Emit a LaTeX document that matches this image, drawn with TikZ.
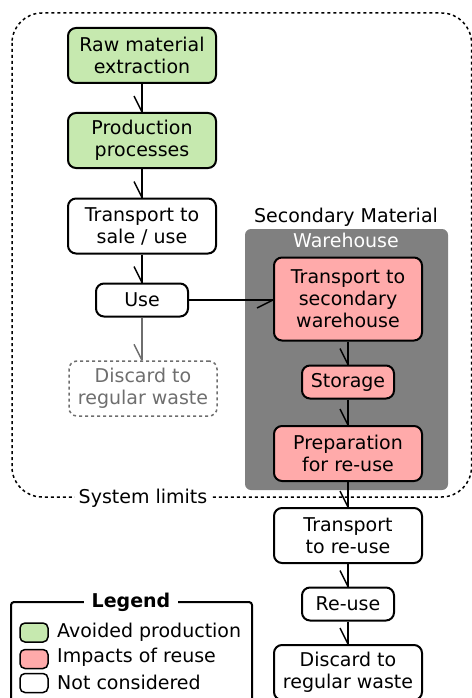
\documentclass[tikz,border=0pt]{standalone}
\usepackage{fontspec}
\setmainfont{DejaVu Sans}
\definecolor{grn}{HTML}{C6E9AF}
\definecolor{pnk}{HTML}{FFAAAA}
\definecolor{whgray}{HTML}{808080}
\definecolor{dgray}{HTML}{6E6E6E}
\newcommand\mydownarrow[3][black]{%
  \draw[arr, draw=#1] (#2.south) -- (#3.north);
  \draw[arr, draw=#1] (#3.north) -- ++(-8,-16);}
\begin{document}
\begin{tikzpicture}[x=1pt,y=-1pt,
  every node/.style={font=\fontsize{19}{22}\selectfont, align=center, inner sep=0pt},
  box/.style={draw, line width=2pt, rounded corners=8pt, minimum width=148pt, minimum height=55pt},
  sbox/.style={box, minimum width=92pt, minimum height=33pt},
  arr/.style={line width=1.5pt},
  swatch/.style={draw, line width=1.5pt, rounded corners=5pt, minimum width=28pt, minimum height=19pt},
  legtext/.style={anchor=west}
]
\useasboundingbox (0,0) rectangle (471,698);
% system limits
\draw[line width=1.5pt, dash pattern=on 3pt off 3pt, rounded corners=30pt] (12,13) rectangle (471.5,497);
\node[fill=white, inner xsep=4pt, inner ysep=2pt] (syslim) at (143,498) {System limits};
% warehouse
\fill[whgray, rounded corners=6pt] (245,229) rectangle (448,490);
\node (secmat) at (346,217) {Secondary Material};
\node[text=white] (wh) at (346,240) {Warehouse};
% nodes
\node[box, fill=grn] (raw) at (142,55.5) {Raw material\\extraction};
\node[box, fill=grn] (prod) at (142,140.5) {Production\\processes};
\node[box, fill=white] (tsu) at (142,226) {Transport to\\sale / use};
\node[sbox, fill=white] (use) at (142,300) {Use};
\node[box, draw=dgray, dash pattern=on 3pt off 3pt, line width=1.5pt, text=dgray] (disc1) at (143,388.5) {Discard to\\regular waste};
\node[box, fill=pnk, minimum height=83pt] (tsw) at (348,299) {Transport to\\secondary\\warehouse};
\node[sbox, fill=pnk] (stor) at (348,382) {Storage};
\node[box, fill=pnk] (prep) at (348,453.5) {Preparation\\for re-use};
\node[box, fill=white] (tru) at (348,535.5) {Transport\\to re-use};
\node[sbox, fill=white] (reuse) at (348,604) {Re-use};
\node[box, fill=white] (disc2) at (348,672.5) {Discard to\\regular waste};
% arrows
\mydownarrow{raw}{prod}
\mydownarrow{prod}{tsu}
\mydownarrow{tsu}{use}
\draw[arr, draw=dgray] (use.south) -- (use.south |- disc1.north);
\draw[arr, draw=dgray] (use.south |- disc1.north) -- ++(-8,-16);
\draw[arr] (use.east) -- (use.east -| tsw.west);
\draw[arr] (use.east -| tsw.west) -- ++(-16,8);
\mydownarrow{tsw}{stor}
\mydownarrow{stor}{prep}
\mydownarrow{prep}{tru}
\mydownarrow{tru}{reuse}
\mydownarrow{reuse}{disc2}
% legend
\draw[line width=2pt, rounded corners=3pt] (11,710) rectangle (252,602);
\node[fill=white, inner xsep=8pt, inner ysep=2pt, font=\fontsize{19}{22}\selectfont\bfseries] (legtitle) at (131,602) {Legend};
\node[swatch, fill=grn] (sw1) at (34,632.5) {};
\node[swatch, fill=pnk] (sw2) at (34,659) {};
\node[swatch, fill=white] (sw3) at (34,683) {};
\node[legtext] (lt1) at (57,632) {Avoided production};
\node[legtext] (lt2) at (57,657.5) {Impacts of reuse};
\node[legtext] (lt3) at (57,682) {Not considered};
\end{tikzpicture}
\end{document}
